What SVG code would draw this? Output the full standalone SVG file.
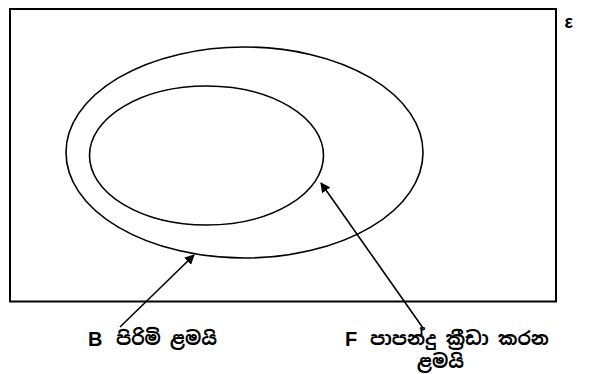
<svg xmlns="http://www.w3.org/2000/svg" width="589" height="374" viewBox="0 0 589 374">
<style>
.ln{fill:none;stroke:#000;stroke-width:1.6}
.lbl{font-family:"Noto Sans Sinhala","Noto Sans","Liberation Sans",sans-serif;font-size:18.5px;font-weight:bold;fill:#000}
.big{font-family:"Liberation Sans",Arial,sans-serif;font-weight:bold;font-size:20px;fill:#000}
</style>
<defs>
<marker id="ah" viewBox="0 0 10 10" refX="9" refY="5" markerWidth="10" markerHeight="10" markerUnits="userSpaceOnUse" orient="auto">
<path d="M0,0 L10,5 L0,10 z" fill="#000"/>
</marker>
</defs>
<rect width="589" height="374" fill="#fff"/>
<g id="universe">
<rect x="10" y="9" width="546" height="292.5" fill="none" stroke="#000" stroke-width="2"/>
<text class="big" x="564.5" y="27.5" style="font-size:18px">ε</text>
</g>
<g id="setB">
<ellipse class="ln" cx="244.5" cy="152.5" rx="178.5" ry="105.5"/>
</g>
<g id="setF">
<ellipse class="ln" cx="206.5" cy="155.5" rx="117" ry="69.5"/>
</g>
<g id="connectors">
<line class="ln" x1="120" y1="327" x2="194" y2="255" marker-end="url(#ah)"/>
<line class="ln" x1="423" y1="328" x2="321" y2="183" marker-end="url(#ah)"/>
</g>
<g id="labelB">
<text class="big" x="88" y="345.5">B</text>
<text class="lbl" x="116" y="345">පිරිමි ළමයි</text>
</g>
<g id="labelF">
<text class="big" x="345" y="345.5">F</text>
<text class="lbl" x="370" y="345">පාපන්දු ක්‍රීඩා කරන</text>
<text class="lbl" x="417" y="368">ළමයි</text>
</g>
</svg>
